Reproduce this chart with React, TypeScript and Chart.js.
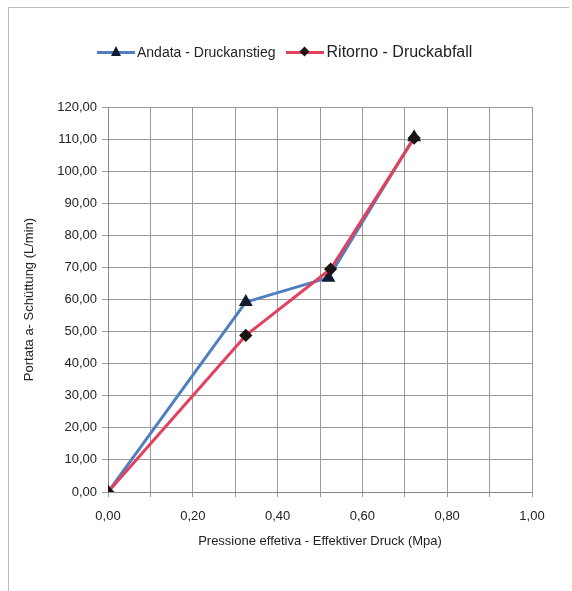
import React, { useEffect, useRef } from "react";
import { Chart, registerables } from "chart.js";

Chart.register(...registerables);

const andataX = [0, 0.325, 0.52, 0.722];
const andataY = [0, 59.2, 66.8, 110.6];
const ritornoX = [0, 0.325, 0.525, 0.722];
const ritornoY = [0, 48.8, 69.5, 110.3];

const seriesNames = ["Andata - Druckanstieg", "Ritorno - Druckabfall"];
const xTitle = "Pressione effetiva - Effektiver Druck (Mpa)";
const yTitle = "Portata a- Schüttung (L/min)";

const BLUE = "#4f7fbf";
const RED = "#e2405c";
const FONT = "'Liberation Sans', Arial, sans-serif";

export default function App() {
  const ref = useRef<HTMLCanvasElement>(null);
  useEffect(() => {
    document.body.style.margin = "0";
    const ctx = ref.current!.getContext("2d")!;
    const chart = new Chart(ctx, {
      type: "scatter",
      data: {
        datasets: [
          {
            label: seriesNames[0],
            data: andataX.map((x, i) => ({ x, y: andataY[i] })),
            showLine: true,
            order: 1,
            borderColor: BLUE,
            borderWidth: 3,
            pointStyle: "triangle",
            pointRadius: 5,
            pointBackgroundColor: "#111a2e",
            pointBorderColor: "#111a2e",
            borderJoinStyle: "round",
          },
          {
            label: seriesNames[1],
            data: ritornoX.map((x, i) => ({ x, y: ritornoY[i] })),
            showLine: true,
            order: 0,
            borderColor: RED,
            borderWidth: 3,
            pointStyle: "rectRot",
            pointRadius: 4.5,
            pointBackgroundColor: "#1a1414",
            pointBorderColor: "#1a1414",
            borderJoinStyle: "round",
          },
        ],
      },
      options: {
        responsive: false,
        animation: false,
        layout: { padding: { top: 107, right: 40, bottom: 38, left: 18 } },
        plugins: { legend: { display: false }, tooltip: { enabled: false } },
        scales: {
          x: {
            type: "linear",
            min: 0,
            max: 1,
            afterFit: (s: any) => { s.height = 61; },
            ticks: {
              stepSize: 0.1,
              autoSkip: false,
              maxRotation: 0,
              color: "#222",
              font: { family: FONT, size: 13 },
              padding: 12,
              callback: (v: any) => {
                const n = Math.round(Number(v) * 10);
                return n % 2 === 0 ? (n / 10).toFixed(2).replace(".", ",") : "";
              },
            },
            grid: { color: "#9a9a9a", lineWidth: 1, tickLength: 5 },
            border: { color: "#888", width: 1 },
            title: { display: true, text: xTitle, color: "#222", font: { family: FONT, size: 13 }, padding: { top: 0 } },
          },
          y: {
            min: 0,
            max: 120,
            afterFit: (s: any) => { s.width = 90; },
            ticks: {
              stepSize: 10,
              color: "#222",
              font: { family: FONT, size: 13 },
              padding: 5,
              callback: (v: any) => Number(v).toFixed(2).replace(".", ","),
            },
            grid: { color: "#9a9a9a", lineWidth: 1, tickLength: 6 },
            border: { color: "#888", width: 1 },
            title: { display: true, text: yTitle, color: "#222", font: { family: FONT, size: 13 }, padding: { bottom: 4 } },
          },
        },
      },
    });
    return () => chart.destroy();
  }, []);

  return (
    <div style={{ position: "relative", width: 572, height: 591, background: "#fff", fontFamily: FONT }}>
      <div style={{ position: "absolute", left: 8, top: 7, width: 560, height: 590, borderLeft: "1px solid #bbb", borderTop: "1px solid #bbb" }} />
      <canvas ref={ref} width={572} height={591} style={{ position: "absolute", left: 0, top: 0 }} />
      <div style={{ position: "absolute", left: 97, top: 40, height: 24, display: "flex", alignItems: "center", color: "#222", whiteSpace: "nowrap" }}>
        <span style={{ position: "relative", display: "inline-block", width: 38, height: 12 }}>
          <span style={{ position: "absolute", left: 0, top: 5, width: 38, height: 3, background: BLUE }} />
          <span style={{ position: "absolute", left: 14, top: 0, width: 0, height: 0, borderLeft: "5px solid transparent", borderRight: "5px solid transparent", borderBottom: "10px solid #111a2e" }} />
        </span>
        <span style={{ fontSize: 14, marginLeft: 2 }}>{seriesNames[0]}</span>
        <span style={{ position: "relative", display: "inline-block", width: 38, height: 12, marginLeft: 10 }}>
          <span style={{ position: "absolute", left: 0, top: 5, width: 38, height: 3, background: RED }} />
          <span style={{ position: "absolute", left: 15, top: 2, width: 7, height: 7, background: "#1a1414", transform: "rotate(45deg)" }} />
        </span>
        <span style={{ fontSize: 16, marginLeft: 3 }}>{seriesNames[1]}</span>
      </div>
    </div>
  );
}
